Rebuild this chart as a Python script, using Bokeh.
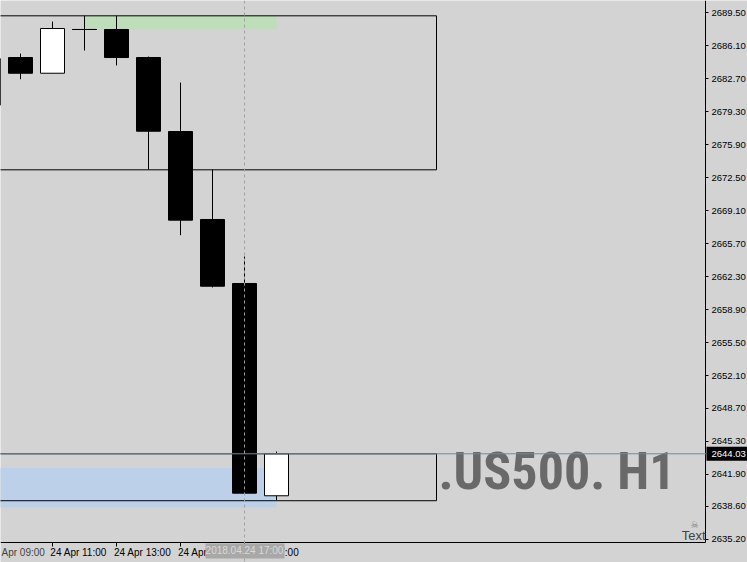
import pandas as pd
from bokeh.plotting import figure
from bokeh.models import (Range1d, FixedTicker, DatetimeTickFormatter, PrintfTickFormatter,
                          Span, Label, ColumnDataSource, BoxAnnotation)
from bokeh.embed import file_html
from bokeh.resources import INLINE

# ---- data -------------------------------------------------------------
times = pd.to_datetime(["2018-04-24 09:00", "2018-04-24 10:00", "2018-04-24 11:00",
                        "2018-04-24 12:00", "2018-04-24 13:00", "2018-04-24 14:00",
                        "2018-04-24 15:00", "2018-04-24 16:00", "2018-04-24 17:00",
                        "2018-04-24 18:00"])
opens = [2679.97, 2684.89, 2683.27, 2687.78, 2687.78, 2684.89, 2677.26, 2668.19, 2661.59, 2639.70]
highs = [2685.00, 2685.30, 2688.60, 2689.19, 2689.19, 2684.99, 2682.31, 2673.34, 2664.37, 2644.27]
lows = [2679.50, 2682.65, 2683.27, 2685.61, 2684.07, 2673.34, 2666.57, 2661.18, 2639.95, 2639.22]
closes = [2684.79, 2683.27, 2687.88, 2687.78, 2684.89, 2677.29, 2668.12, 2661.31, 2639.97, 2644.03]

bid = 2644.03
price_ticks = [2689.50, 2686.10, 2682.70, 2679.30, 2675.90, 2672.50, 2669.10, 2665.70,
               2662.30, 2658.90, 2655.50, 2652.10, 2648.70, 2645.30, 2641.90, 2638.60, 2635.20]
time_ticks = pd.to_datetime(["2018-04-24 11:00", "2018-04-24 13:00",
                             "2018-04-24 15:00", "2018-04-24 17:00"])

# rectangles (outlined boxes)
box_left = pd.to_datetime(["2018-04-24 05:00", "2018-04-24 05:00"])
box_right = pd.to_datetime(["2018-04-24 23:00", "2018-04-24 23:00"])
box_top = [2689.19, 2644.03]
box_bottom = [2673.31, 2639.19]
# filled zones
zone_left = pd.to_datetime(["2018-04-24 12:00", "2018-04-24 05:00"])
zone_right = pd.to_datetime(["2018-04-24 18:00", "2018-04-24 18:00"])
zone_top = [2689.19, 2642.59]
zone_bottom = [2687.78, 2638.49]
zone_colors = ["#BEDDB9", "#BCD1E9"]

cursor_time = pd.Timestamp("2018-04-24 17:00")

# ---- figure -----------------------------------------------------------
BG = "#D3D3D3"
HOUR = 3600 * 1000
day0 = pd.Timestamp("2018-04-24")
ms = lambda ts: ts.value // 10**6
x_start = day0 + pd.Timedelta(hours=9.375)
x_axis_pos = day0 + pd.Timedelta(hours=31.40625)   # right edge of the chart area
x_end = day0 + pd.Timedelta(hours=32.71875)        # right edge of the window
y_top, y_axis_pos, y_bottom = 2690.77, 2634.886, 2632.82

p = figure(width=747, height=562, output_backend="svg", toolbar_location=None,
           x_axis_type="datetime", y_axis_location="right",
           x_range=Range1d(x_start, x_end), y_range=Range1d(y_bottom, y_top),
           min_border=0, background_fill_color=BG, border_fill_color=BG,
           outline_line_color=None)
p.grid.visible = False

# watermark
p.add_layout(Label(x=438, y=2642.16, x_units="screen", y_units="data", text=".US500. H1",
                   text_font="Roboto Condensed, Liberation Sans Narrow, Roboto",
                   text_font_style="bold", text_font_size="52px", text_color="#696969",
                   text_baseline="alphabetic", text_align="left", level="underlay"))

# zones
p.quad(left=zone_left, right=zone_right, top=zone_top, bottom=zone_bottom,
       fill_color=zone_colors, line_color=None)

# candles
src = ColumnDataSource(dict(t=times, o=opens, h=highs, l=lows, c=closes,
                            top=[max(a, b) for a, b in zip(opens, closes)],
                            bot=[min(a, b) for a, b in zip(opens, closes)],
                            fill=["white" if c > o else "black" for o, c in zip(opens, closes)]))
p.segment(x0="t", x1="t", y0="l", y1="h", source=src, line_color="black", line_width=1)
p.vbar(x="t", width=0.75 * HOUR, top="top", bottom="bot", fill_color="fill",
       line_color="black", line_width=1, source=src)
doji_t = [t for t, o, c in zip(times, opens, closes) if o == c]
doji_y = [o for o, c in zip(opens, closes) if o == c]
p.segment(x0=[t - pd.Timedelta(minutes=23) for t in doji_t],
          x1=[t + pd.Timedelta(minutes=23) for t in doji_t],
          y0=doji_y, y1=doji_y, line_color="black", line_width=1)

# outlined boxes
p.quad(left=box_left, right=box_right, top=box_top, bottom=box_bottom,
       fill_color=None, line_color="black", line_width=1)

# bid line & cursor line
p.add_layout(Span(location=bid, dimension="width", line_color="#778899", line_width=1))
p.add_layout(Span(location=cursor_time, dimension="height", line_color="#A0A0A0",
                  line_width=1, line_dash="3 3"))

# axes (drawn at the chart-area edges inside the window)
AX_FONT = "Liberation Sans"
yax, xax = p.yaxis[0], p.xaxis[0]
yax.fixed_location = ms(x_axis_pos)
yax.bounds = (y_axis_pos, y_top)
xax.fixed_location = y_axis_pos
xax.bounds = (ms(x_start), ms(x_axis_pos))
yax.ticker = FixedTicker(ticks=price_ticks)
yax.formatter = PrintfTickFormatter(format="%.2f")
# labels start at the tick (MT4 style): label anchor shifted right, tick marks as minor ticks
label_shift = pd.Timedelta(minutes=49)
xax.ticker = FixedTicker(ticks=[ms(t + label_shift) for t in time_ticks],
                         minor_ticks=[ms(t) for t in time_ticks])
xax.formatter = DatetimeTickFormatter(hours="%d %b %H:00", days="%d %b %H:00",
                                      minutes="%d %b %H:00", hourmin="%d %b %H:00",
                                      context=None)
for ax in (xax, yax):
    ax.axis_line_color = "black"
    ax.major_tick_in = 0
    ax.minor_tick_in = 0
    ax.major_label_text_font = AX_FONT
    ax.major_label_text_color = "black"
yax.major_label_text_font_size = "9.5px"
xax.major_label_text_font_size = "10px"
yax.major_tick_line_color = "black"
yax.minor_tick_line_color = None
yax.major_tick_out = 3
yax.major_label_standoff = 3
xax.major_tick_line_color = None
xax.minor_tick_line_color = "black"
xax.major_tick_out = 4
xax.minor_tick_out = 4
xax.major_label_standoff = 1

# first, partly scrolled-out time label
p.add_layout(Label(x=1, y=2633.86, x_units="screen", text="Apr 09:00", text_font=AX_FONT,
                   text_font_size="10px", text_baseline="middle", text_align="left"))
# cursor time box
p.add_layout(BoxAnnotation(left=205, right=284, left_units="screen", right_units="screen",
                           top=2634.78, bottom=2633.24, fill_color="#A8A8A8", fill_alpha=1,
                           line_color=None))
p.add_layout(Label(x=cursor_time, y=2634.01, text="2018.04.24 17:00", text_font=AX_FONT,
                   text_font_size="10px", text_baseline="middle", text_align="center",
                   text_color="#D8D8D8"))
# bid price box
p.add_layout(BoxAnnotation(left=706, right=747, left_units="screen", right_units="screen",
                           top=bid + 0.72, bottom=bid - 0.72, fill_color="black", fill_alpha=1,
                           line_color=None))
p.add_layout(Label(x=711, y=bid, x_units="screen", text="%.2f" % bid, text_font=AX_FONT,
                   text_font_size="9.5px", text_baseline="middle", text_align="left",
                   text_color="white"))
# "Text" object with icon
p.add_layout(Label(x=705, y=2635.64, x_units="screen", text="Text", text_font=AX_FONT,
                   text_font_size="13px", text_baseline="alphabetic", text_align="right"))
p.add_layout(Label(x=694, y=2636.64, x_units="screen", text="\u2620", text_font="DejaVu Sans",
                   text_font_size="9px", text_baseline="middle", text_align="center",
                   text_color="#808080"))

open("out.html", "w").write(file_html(p, INLINE))
